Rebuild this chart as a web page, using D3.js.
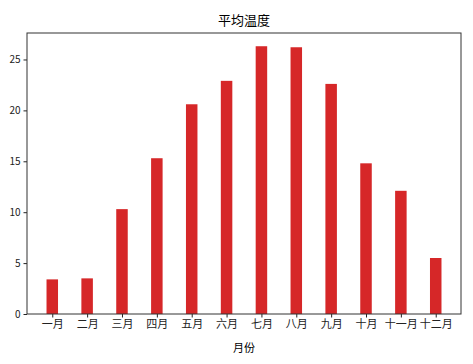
<!DOCTYPE html>
<html>
<head>
<meta charset="utf-8">
<script src="https://cdn.jsdelivr.net/npm/d3@7"></script>
<style>
  body { margin: 0; background: #fff; }
  text { font-family: "Noto Sans CJK SC", "DejaVu Sans", sans-serif; fill: #000; }
</style>
</head>
<body>
<svg id="chart" width="473" height="364"></svg>
<script>
var months = ["一月", "二月", "三月", "四月", "五月", "六月", "七月", "八月", "九月", "十月", "十一月", "十二月"]
var temps = [3.4, 3.5, 10.3, 15.3, 20.6, 22.9, 26.3, 26.2, 22.6, 14.8, 12.1, 5.5]
var yTicks = [0, 5, 10, 15, 20, 25]

var svg = d3.select("#chart")
var padL = 27, padR = 461, padT = 33, padB = 314
var barW = 0.33

var x = d3.scaleLinear().domain([-0.725, 11.725]).range([padL, padR])
var y = d3.scaleLinear().domain([0, 27.6]).range([padB, padT])

// bars
svg.selectAll("rect.bar")
    .data(temps)
    .enter()
    .append("rect")
    .attr("class", "bar")
    .attr("x", function(d, i) { return x(i - barW / 2) })
    .attr("width", function(d, i) { return x(i + barW / 2) - x(i - barW / 2) })
    .attr("y", function(d) { return y(d) })
    .attr("height", function(d) { return y(0) - y(d) })
    .attr("fill", "#d62728")

// axes
var xAxis = d3.axisBottom(x)
    .tickValues(d3.range(months.length))
    .tickFormat(function(i) { return months[i] })
    .tickSize(3.5)
    .tickPadding(3)
var yAxis = d3.axisLeft(y)
    .tickValues(yTicks)
    .tickSize(3.5)
    .tickPadding(3)

var gx = svg.append("g").attr("transform", "translate(0," + padB + ")").call(xAxis)
var gy = svg.append("g").attr("transform", "translate(" + padL + ",0)").call(yAxis)
gx.select(".domain").remove()
gy.select(".domain").remove()
gx.selectAll(".tick text").attr("font-size", "11px").style("fill", "#222")
gy.selectAll(".tick text").attr("font-size", "10px").style("fill", "#222")
svg.selectAll(".tick line").attr("stroke", "#222")

// frame
svg.append("rect")
    .attr("x", padL)
    .attr("y", padT)
    .attr("width", padR - padL)
    .attr("height", padB - padT)
    .attr("fill", "none")
    .attr("stroke", "#333")
    .attr("stroke-width", 1)

// title and label
svg.append("text")
    .attr("x", (padL + padR) / 2)
    .attr("y", 25)
    .attr("text-anchor", "middle")
    .attr("font-size", "13px")
    .text("平均温度")

svg.append("text")
    .attr("x", (padL + padR) / 2)
    .attr("y", 352)
    .attr("text-anchor", "middle")
    .attr("font-size", "11px")
    .text("月份")
</script>
</body>
</html>
